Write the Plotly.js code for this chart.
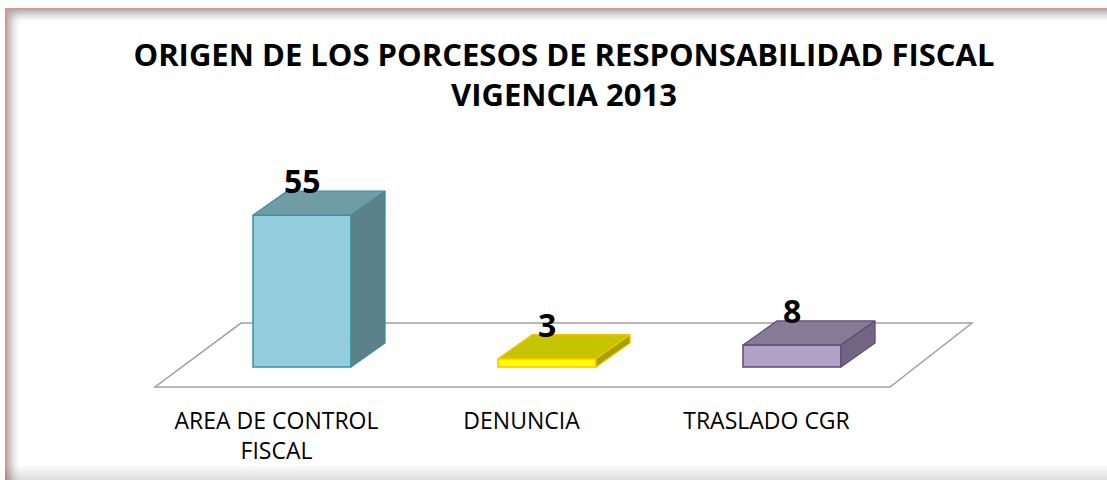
<!DOCTYPE html>
<html>
<head>
<meta charset="utf-8">
<script src="https://cdn.plot.ly/plotly-3.0.1.min.js"></script>
<style>
  html, body { margin:0; padding:0; background:#ffffff; width:1107px; height:480px; overflow:hidden; }
  #frame { position:absolute; left:5px; top:8px; width:1110px; height:490px; box-sizing:border-box;
           border-top:2px solid #D99594; border-left:2px solid #D99594; background:#ffffff;
           box-shadow: inset 6px 6px 10px -2px rgba(0,0,0,0.35); }
  #bottomShade { position:absolute; left:5px; top:464px; width:1102px; height:16px;
           background: linear-gradient(to bottom, rgba(0,0,0,0), rgba(0,0,0,0.13)); }
  #chart { position:absolute; left:0; top:0; width:1107px; height:480px; }
</style>
</head>
<body>
<div id="frame"></div>
<div id="bottomShade"></div>
<div id="chart"></div>
<script>
// ---- data ----
const categories = ["AREA DE CONTROL FISCAL", "DENUNCIA", "TRASLADO CGR"];
const tickLabels = ["AREA DE CONTROL<br>FISCAL", "DENUNCIA", "TRASLADO CGR"];
const values = [55, 3, 8];
const titleText = "ORIGEN DE LOS PORCESOS DE RESPONSABILIDAD FISCAL<br>VIGENCIA 2013";

// ---- styles ----
const frontColors = ["#93CDDD", "#FFFF00", "#B3A2C7"];
const topColors   = ["#6F9CA6", "#C4C400", "#867A96"];
const sideColors  = ["#5C8289", "#A3A300", "#726584"];
const edgeColors  = ["#3B8EA2", "#FFC000", "#604A7B"];

// geometry (axis units)
const barW = 0.4;          // bar width in category units
const depthX = 0.139;      // 3D depth offset, x
const depthY = 8.7;        // 3D depth offset, y (value units)
const floorFront = -7.25, floorBack = 15.9;
const floorXFront = [-0.6, 2.4], floorXBack = [-0.249, 2.735];

const xs = categories.map((c, i) => i);
const traces = [];

traces.push({
  type: "bar", x: xs, y: values, width: barW,
  marker: { color: frontColors, line: { color: edgeColors, width: 1.5 } },
  hoverinfo: "skip", showlegend: false
});

values.forEach((v, i) => {
  const l = i - barW / 2, r = i + barW / 2;
  traces.push({
    type: "scatter", mode: "lines", fill: "toself",
    x: [l, r, r + depthX, l + depthX, l],
    y: [v, v, v + depthY, v + depthY, v],
    fillcolor: topColors[i], line: { color: edgeColors[i], width: 1.2 },
    hoverinfo: "skip", showlegend: false
  });
  traces.push({
    type: "scatter", mode: "lines", fill: "toself",
    x: [r, r + depthX, r + depthX, r, r],
    y: [0, depthY, v + depthY, v, 0],
    fillcolor: sideColors[i], line: { color: edgeColors[i], width: 1.2 },
    hoverinfo: "skip", showlegend: false
  });
});

const annotations = values.map((v, i) => ({
  x: i, y: v + depthY + 3.8, xref: "x", yref: "y",
  text: String(v), showarrow: false, xanchor: "center", yanchor: "middle",
  font: { family: "Open Sans", size: 32, color: "#000000", weight: "bold" }
}));

const floorPath = "M " + floorXFront[0] + "," + floorFront +
  " L " + floorXFront[1] + "," + floorFront +
  " L " + floorXBack[1] + "," + floorBack +
  " L " + floorXBack[0] + "," + floorBack + " Z";

const layout = {
  width: 1107, height: 480,
  margin: { l: 0, r: 0, t: 0, b: 0, pad: 0 },
  paper_bgcolor: "rgba(0,0,0,0)", plot_bgcolor: "rgba(0,0,0,0)",
  showlegend: false,
  title: {
    text: titleText, x: 564 / 1107, xanchor: "center", xref: "paper",
    y: 1 - 66 / 480, yanchor: "top", yref: "container",
    font: { family: "Open Sans", size: 31, color: "#000000", weight: "bold" }
  },
  xaxis: {
    range: [-302 / 245, 805 / 245], showgrid: false, zeroline: false, showline: false,
    tickvals: xs.map(x => x - 0.104), ticktext: tickLabels, ticks: "",
    anchor: "free", position: 0.156, automargin: false, fixedrange: true,
    tickfont: { family: "Open Sans", size: 23, color: "#000000" }
  },
  yaxis: {
    range: [-113 / 2.76, 367 / 2.76], visible: false, showgrid: false, zeroline: false,
    automargin: false, fixedrange: true
  },
  shapes: [{
    type: "path", path: floorPath, xref: "x", yref: "y", layer: "below",
    line: { color: "#A0A0A0", width: 1.5 }, fillcolor: "rgba(255,255,255,0)"
  }],
  annotations: annotations
};

Plotly.newPlot("chart", traces, layout, { staticPlot: true, displayModeBar: false });
</script>
</body>
</html>
